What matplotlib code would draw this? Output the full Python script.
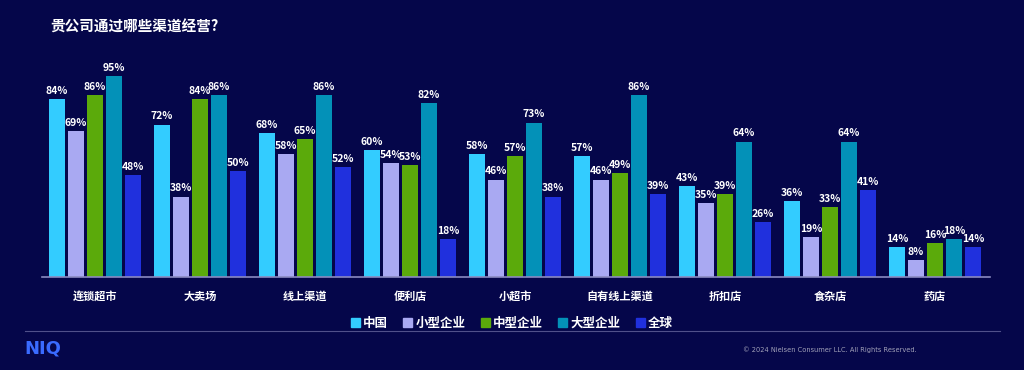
import matplotlib
matplotlib.use("Agg")
import matplotlib.pyplot as plt
import matplotlib.patches as mpatches
from matplotlib.lines import Line2D
import numpy as np

plt.rcParams['font.family'] = ['Noto Sans CJK SC', 'DejaVu Sans']

categories = ['连锁超市', '大卖场', '线上渠道', '便利店', '小超市', '自有线上渠道', '折扣店', '食杂店', '药店']
series_names = ['中国', '小型企业', '中型企业', '大型企业', '全球']
china = [84, 72, 68, 60, 58, 57, 43, 36, 14]
small = [69, 38, 58, 54, 46, 46, 35, 19, 8]
medium = [86, 84, 65, 53, 57, 49, 39, 33, 16]
large = [95, 86, 86, 82, 73, 86, 64, 64, 18]
world = [48, 50, 52, 18, 38, 39, 26, 41, 14]
series = [china, small, medium, large, world]
colors = ['#33CCFF', '#A9A9F2', '#5BAA0B', '#0391B8', '#2030DD']

BG = '#05064A'
W, H = 1024, 370
fig = plt.figure(figsize=(W / 100, H / 100), dpi=100, facecolor=BG)

ax_left, ax_right = 42, 990
ax_bottom, ax_top = 277, 40
ax = fig.add_axes([ax_left / W, (H - ax_bottom) / H, (ax_right - ax_left) / W, (ax_bottom - ax_top) / H])
ax.set_facecolor(BG)

x = np.arange(len(categories))
pitch = 19 / 105
width = 16 / 105
for k, (vals, col) in enumerate(zip(series, colors)):
    pos = x + (k - 2) * pitch
    bars = ax.bar(pos, vals, width=width, color=col, edgecolor='none', zorder=2)
    for b, v in zip(bars, vals):
        ax.text(b.get_x() + b.get_width() / 2, v + 1.5, f'{v}%', ha='center', va='bottom',
                color='white', fontsize=7.5, fontweight='bold', zorder=3)

ax.set_xlim(-0.505, 8.524)
ax.set_ylim(0, 112)
for s in ['top', 'right', 'left']:
    ax.spines[s].set_visible(False)
ax.spines['bottom'].set_color('#8A8AC0')
ax.spines['bottom'].set_linewidth(1.2)
ax.set_yticks([])
ax.set_xticks(x)
ax.set_xticklabels(categories, color='white', fontsize=8, fontweight='bold')
ax.tick_params(axis='x', length=0, pad=9)

fig.text(50 / W, 1 - 27 / H, '贵公司通过哪些渠道经营?', color='white', fontsize=10.5,
         fontweight='bold', va='center', ha='left')

handles = [mpatches.Patch(color=c, label=n) for n, c in zip(series_names, colors)]
leg = fig.legend(handles=handles, loc='center', bbox_to_anchor=(512 / W, 1 - 323 / H), ncol=5,
                 frameon=False, handlelength=0.7, handleheight=0.7, handletextpad=0.3,
                 columnspacing=1.2, prop={'size': 9, 'weight': 'bold'})
for t in leg.get_texts():
    t.set_color('white')

fig.add_artist(Line2D([25 / W, 1000 / W], [1 - 331 / H, 1 - 331 / H], color='#50508A', linewidth=0.8))

fig.text(24 / W, 1 - 349 / H, 'NIQ', color='#3A6BFF', fontsize=13, fontweight='bold',
         va='center', ha='left', family='DejaVu Sans')
fig.text(743 / W, 1 - 350 / H, '© 2024 Nielsen Consumer LLC. All Rights Reserved.', color='#A0A0B8',
         fontsize=4.8, va='center', ha='left', family='DejaVu Sans')

fig.savefig('out.png', dpi=100, facecolor=BG)
